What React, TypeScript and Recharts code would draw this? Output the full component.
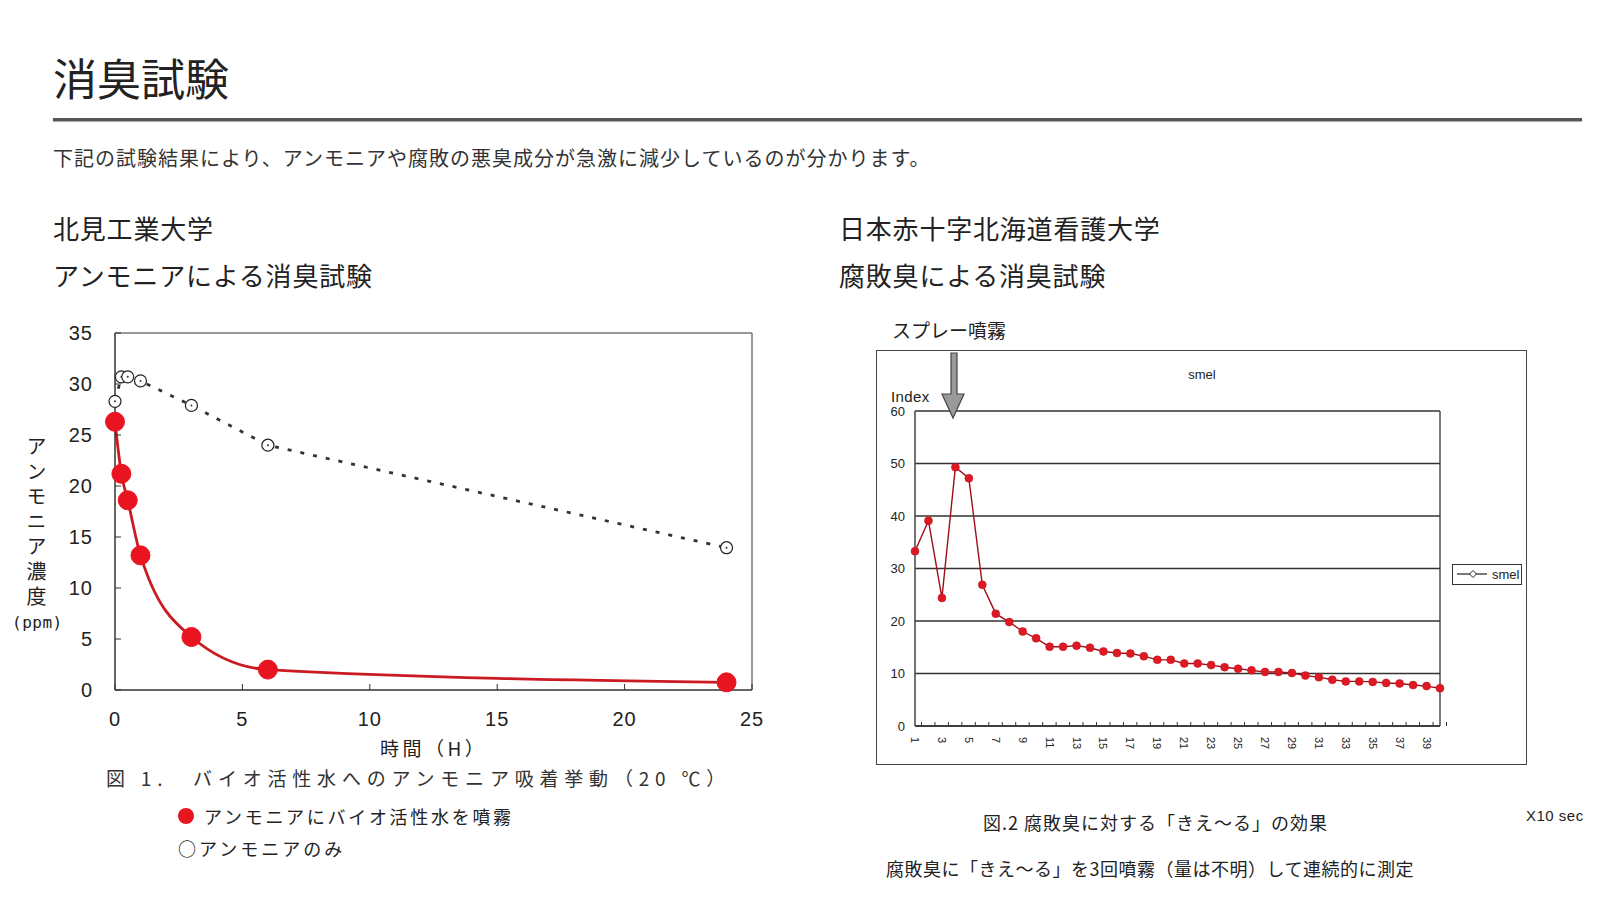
import React from "react";
import {
  CartesianGrid,
  Line,
  LineChart,
  XAxis,
  YAxis,
} from "recharts";

// 図1: アンモニア濃度 (ppm) vs 時間 (H)
const hours = [0, 0.25, 0.5, 1, 3, 6, 24];
const sprayed = [26.3, 21.2, 18.6, 13.2, 5.2, 2.0, 0.75];
const ammoniaOnly = [28.3, 30.7, 30.7, 30.3, 27.9, 24.0, 13.95];
const hourTicks = [0, 5, 10, 15, 20, 25];
const ppmTicks = [0, 5, 10, 15, 20, 25, 30, 35];

// 図2: smel index (x10 sec)
const steps = [
  1, 2, 3, 4, 5, 6, 7, 8, 9, 10, 11, 12, 13, 14, 15, 16, 17, 18, 19, 20,
  21, 22, 23, 24, 25, 26, 27, 28, 29, 30, 31, 32, 33, 34, 35, 36, 37, 38, 39, 40,
];
const smel = [
  33.3, 39.1, 24.4, 49.3, 47.2, 26.9, 21.4, 19.8, 18.0, 16.7,
  15.1, 15.1, 15.3, 14.9, 14.2, 13.9, 13.8, 13.3, 12.6, 12.6,
  11.9, 11.9, 11.6, 11.2, 10.9, 10.6, 10.3, 10.3, 10.1, 9.6,
  9.3, 8.8, 8.5, 8.5, 8.4, 8.2, 8.1, 7.8, 7.6, 7.2,
];
const indexTicks = [0, 10, 20, 30, 40, 50, 60];

const ammoniaData = hours.map((h, i) => ({ h, sprayed: sprayed[i], only: ammoniaOnly[i] }));
const smelData = steps.map((s, i) => ({ step: s, smel: smel[i] }));

const JP = '"Noto Sans CJK JP", "Noto Sans", sans-serif';
const NUM = '"Liberation Sans", Arial, sans-serif';

function T({ x, y, size, children, style }: any) {
  return (
    <div
      style={{
        position: "absolute",
        left: x,
        top: y - size / 2,
        fontSize: size,
        lineHeight: 1,
        whiteSpace: "nowrap",
        fontFamily: JP,
        color: "#222",
        ...style,
      }}
    >
      {children}
    </div>
  );
}

// plot-frame edges (top / right), taken from the chart's own offset
const rightEdge = ({ offset }: any) => [offset.left + offset.width];
const topEdge = ({ offset }: any) => [offset.top];

const HourTick = ({ x, y, payload }: any) => (
  <g>
    <line x1={x} x2={x} y1={y} y2={y - 6} stroke="#333" strokeWidth={1} />
    <text x={x} y={y + 29} textAnchor="middle" dominantBaseline="central" fontSize={20} fontFamily={NUM} fill="#222" letterSpacing={1}>
      {payload.value}
    </text>
  </g>
);

const PpmTick = ({ x, y, payload }: any) => (
  <g>
    <line x1={x} x2={x + 6} y1={y} y2={y} stroke="#333" strokeWidth={1} />
    <text x={x - 22} y={y} textAnchor="end" dominantBaseline="central" fontSize={20} fontFamily={NUM} fill="#222" letterSpacing={1}>
      {payload.value}
    </text>
  </g>
);

const StepTick = ({ x, y, payload }: any) => (
  <g>
    <line x1={x + 6.5} x2={x + 6.5} y1={y} y2={y - 4} stroke="#333" strokeWidth={1} />
    {payload.value % 2 === 1 && (
      <text
        x={x}
        y={y + 11}
        transform={`rotate(90, ${x}, ${y + 11})`}
        textAnchor="start"
        dominantBaseline="central"
        fontSize={11}
        fontFamily={NUM}
        fill="#222"
      >
        {payload.value}
      </text>
    )}
  </g>
);

const IndexTick = ({ x, y, payload }: any) => (
  <text x={x - 10} y={y} textAnchor="end" dominantBaseline="central" fontSize={13} fontFamily={NUM} fill="#222">
    {payload.value}
  </text>
);

const OpenDot = ({ cx, cy }: any) => (
  <g>
    <circle cx={cx} cy={cy} r={6} fill="#fff" stroke="#222" strokeWidth={1.2} />
    <circle cx={cx} cy={cy} r={1} fill="#333" />
  </g>
);

export default function App() {
  return (
    <div style={{ position: "absolute", left: 0, top: 0, width: 1600, height: 900, background: "#fff", overflow: "hidden" }}>
      {/* header */}
      <T x={53} y={77} size={44}>消臭試験</T>
      <div style={{ position: "absolute", left: 53, top: 118, width: 1529, height: 3, background: "#555", boxShadow: "0 1px 1px #aaa" }} />
      <T x={53} y={158} size={20} style={{ letterSpacing: 1, color: "#333" }}>
        下記の試験結果により、アンモニアや腐敗の悪臭成分が急激に減少しているのが分かります。
      </T>
      <T x={53} y={228} size={26} style={{ letterSpacing: 0.8 }}>北見工業大学</T>
      <T x={53} y={275} size={26} style={{ letterSpacing: 0.8 }}>アンモニアによる消臭試験</T>
      <T x={839} y={228} size={26} style={{ letterSpacing: 0.8 }}>日本赤十字北海道看護大学</T>
      <T x={839} y={275} size={26} style={{ letterSpacing: 0.8 }}>腐敗臭による消臭試験</T>

      {/* 図1 */}
      <div style={{ position: "absolute", left: 0, top: 300 }}>
        <LineChart width={780} height={450} data={ammoniaData} margin={{ top: 33, right: 28, left: 55, bottom: 0 }}>
          <CartesianGrid
            stroke="#777"
            strokeWidth={1.5}
            horizontalCoordinatesGenerator={topEdge}
            verticalCoordinatesGenerator={rightEdge}
          />
          <XAxis
            dataKey="h"
            type="number"
            domain={[0, 25]}
            ticks={hourTicks}
            tickSize={0}
            tickMargin={0}
            tick={<HourTick />}
            height={60}
            axisLine={{ stroke: "#333", strokeWidth: 1.5 }}
          />
          <YAxis
            type="number"
            domain={[0, 35]}
            ticks={ppmTicks}
            tickSize={0}
            tickMargin={0}
            tick={<PpmTick />}
            width={60}
            axisLine={{ stroke: "#333", strokeWidth: 1.5 }}
          />
          <Line
            dataKey="only"
            type="linear"
            stroke="#333"
            strokeWidth={2.8}
            strokeDasharray="4 9"
            dot={<OpenDot />}
            isAnimationActive={false}
          />
          <Line
            dataKey="sprayed"
            type="monotone"
            stroke="#cc1a22"
            strokeWidth={2.8}
            dot={{ r: 9.5, fill: "#e8141f", stroke: "#e8141f", strokeWidth: 1 }}
            isAnimationActive={false}
          />
        </LineChart>
      </div>
      <div style={{ position: "absolute", left: 26, top: 436, fontSize: 20, lineHeight: 1, writingMode: "vertical-rl", letterSpacing: 5, fontFamily: JP, color: "#222" }}>
        アンモニア濃度
      </div>
      <T x={12} y={623} size={16} style={{ fontFamily: '"DejaVu Sans Mono", monospace', letterSpacing: 0.5 }}>(ppm)</T>
      <T x={380} y={747} size={19} style={{ letterSpacing: 3.5 }}>時間（H）</T>
      <T x={106} y={777} size={19} style={{ letterSpacing: 5.8, color: "#333" }}>図 1.　バイオ活性水へのアンモニア吸着挙動（20 ℃）</T>
      <div style={{ position: "absolute", left: 178, top: 808, width: 16, height: 16, borderRadius: 8, background: "#e8141f" }} />
      <T x={204} y={816} size={18} style={{ letterSpacing: 2.7 }}>アンモニアにバイオ活性水を噴霧</T>
      <T x={178} y={848} size={18} style={{ letterSpacing: 3 }}>○アンモニアのみ</T>

      {/* 図2 */}
      <T x={892} y={329} size={19}>スプレー噴霧</T>
      <div style={{ position: "absolute", left: 876, top: 350, width: 651, height: 415, boxSizing: "border-box", border: "1.5px solid #444" }} />
      <div style={{ position: "absolute", left: 876, top: 350 }}>
        <LineChart width={651} height={415} data={smelData} margin={{ top: 61, right: 87, left: 9, bottom: 0 }}>
          <CartesianGrid stroke="#333" strokeWidth={1.3} verticalCoordinatesGenerator={rightEdge} />
          <XAxis
            dataKey="step"
            interval={0}
            tickSize={0}
            tickMargin={0}
            tick={<StepTick />}
            height={39}
            axisLine={{ stroke: "#333", strokeWidth: 1.5 }}
          />
          <YAxis
            type="number"
            domain={[0, 60]}
            ticks={indexTicks}
            tickSize={0}
            tickMargin={0}
            tick={<IndexTick />}
            width={30}
            axisLine={{ stroke: "#444", strokeWidth: 1.5 }}
          />
          <Line
            dataKey="smel"
            type="linear"
            stroke="#9e1018"
            strokeWidth={1.4}
            dot={{ r: 4, fill: "#dd1a24", stroke: "#c0101a", strokeWidth: 0.5 }}
            isAnimationActive={false}
          />
        </LineChart>
      </div>
      <T x={1202} y={374} size={13} style={{ fontFamily: NUM, transform: "translateX(-50%)" }}>smel</T>
      <T x={891} y={396} size={15} style={{ fontFamily: NUM, letterSpacing: 0.4 }}>Index</T>
      <svg style={{ position: "absolute", left: 938, top: 350 }} width={30} height={72}>
        <polygon
          points="13,3 19,3 19,44 26,44 15,68 4,44 13,44"
          fill="#9a9a9a"
          stroke="#444"
          strokeWidth={1.2}
        />
      </svg>
      <div style={{ position: "absolute", left: 1452, top: 564, width: 70, height: 21, boxSizing: "border-box", border: "1.5px solid #333", background: "#fff" }}>
        <svg style={{ position: "absolute", left: 3, top: 2 }} width={32} height={14}>
          <line x1={1} x2={31} y1={7} y2={7} stroke="#222" strokeWidth={1.2} />
          <polygon points="17,3.5 20.5,7 17,10.5 13.5,7" fill="#fff" stroke="#222" strokeWidth={1} />
        </svg>
        <span style={{ position: "absolute", left: 39, top: 2, fontSize: 13, lineHeight: "15px", fontFamily: NUM, color: "#222" }}>smel</span>
      </div>
      <T x={1526} y={815} size={15} style={{ fontFamily: NUM, letterSpacing: 0.5 }}>X10 sec</T>
      <T x={983} y={822} size={18} style={{ letterSpacing: 1 }}>図.2 腐敗臭に対する「きえ～る」の効果</T>
      <T x={886} y={868} size={18} style={{ letterSpacing: 0.5 }}>腐敗臭に「きえ～る」を3回噴霧（量は不明）して連続的に測定</T>
    </div>
  );
}
